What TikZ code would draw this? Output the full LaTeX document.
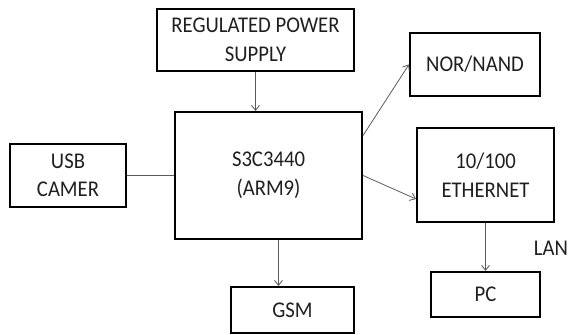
\documentclass[tikz,border=0pt]{standalone}
\usepackage{fontspec}
\setmainfont[FakeStretch=0.92]{Carlito}
\usetikzlibrary{arrows.meta}
\begin{document}
\begin{tikzpicture}[x=1pt,y=-1pt,
  blk/.style={draw=black,line width=2.1pt,rectangle,inner sep=0pt,align=center,
    font=\fontsize{22.5}{28.5}\selectfont,text=black!88},
  conn/.style={draw=black!65,line width=0.8pt},
  arr/.style={conn,-{Straight Barb[length=5pt,width=8pt]}}]
\useasboundingbox (0,0) rectangle (569,334);
\node[blk,minimum width=197pt,minimum height=62pt] (power) at (255.5,40) {REGULATED POWER\\SUPPLY};
\node[blk,minimum width=130pt,minimum height=63pt] (nor) at (475,64.5) {NOR/NAND};
\node[blk,minimum width=187pt,minimum height=127pt] (main) at (268.5,175.5) {S3C3440\\(ARM9)};
\node[blk,minimum width=116pt,minimum height=63pt] (usb) at (68,175.5) {USB\\CAMER};
\node[blk,minimum width=137pt,minimum height=94pt] (eth) at (485.5,175) {10/100\\ETHERNET};
\node[blk,minimum width=123pt,minimum height=46pt] (gsm) at (292.5,310) {GSM};
\node[blk,minimum width=109pt,minimum height=45pt] (pc) at (485.5,294.5) {PC};
\node[font=\fontsize{22.5}{28.5}\selectfont,text=black!88,inner sep=0pt] (lan) at (551,248) {LAN};
\draw[arr] (power.south) -- (power.south |- main.north);
\draw[arr] ([yshift=40pt]main.east) -- (nor.west);
\draw[arr] (main.east) -- ([yshift=-24pt]eth.west);
\draw[conn] (usb.east) -- (main.west);
\draw[arr] ([xshift=10pt]main.south) -- ([xshift=10pt]main.south |- gsm.north);
\draw[arr] (eth.south) -- (pc.north);
\end{tikzpicture}
\end{document}
